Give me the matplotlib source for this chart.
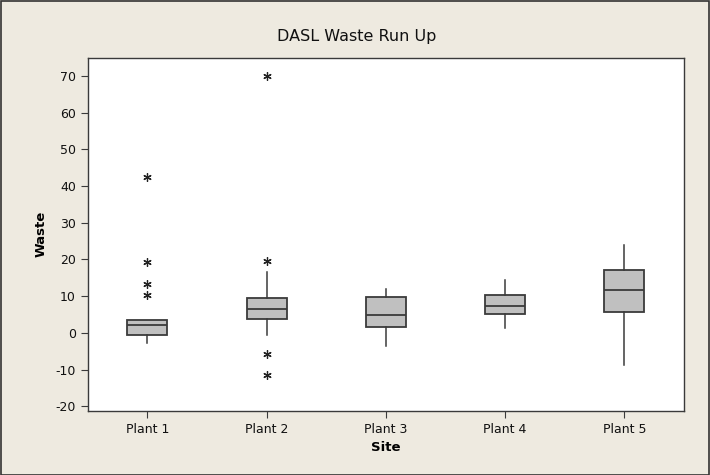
import matplotlib
matplotlib.use('Agg')
import matplotlib.pyplot as plt

plt.rcParams['axes.unicode_minus'] = False

# values (Minitab style boxplot)
sites = ['Plant 1', 'Plant 2', 'Plant 3', 'Plant 4', 'Plant 5']
q1 = [-0.6, 3.7, 1.7, 5.1, 5.8]
med = [2.1, 6.5, 4.8, 7.2, 11.7]
q3 = [3.4, 9.5, 9.8, 10.2, 17.1]
whislo = [-2.7, -0.7, -3.5, 1.3, -8.8]
whishi = [3.4, 16.7, 12.0, 14.4, 23.9]
outliers = [
    [10.2, 13.3, 19.4, 42.6],
    [-11.5, -5.7, 19.7, 70.0],
    [],
    [],
    [],
]

bg = '#EEEAE0'
edge = '#3a3a3a'

fig = plt.figure(figsize=(7.1, 4.75), dpi=100, facecolor=bg)
ax = fig.add_axes([0.1235, 0.1347, 0.84, 0.7438])
ax.set_facecolor('white')

stats = []
for i in range(len(sites)):
    stats.append({'label': sites[i], 'q1': q1[i], 'med': med[i], 'q3': q3[i],
                  'whislo': whislo[i], 'whishi': whishi[i], 'fliers': outliers[i]})

ax.bxp(stats, positions=range(1, 6), widths=0.335, patch_artist=True, showcaps=False,
       boxprops=dict(facecolor='#C0C0C0', edgecolor=edge, linewidth=1.3),
       medianprops=dict(color=edge, linewidth=1.3),
       whiskerprops=dict(color=edge, linewidth=1.1),
       flierprops=dict(marker=(6, 2, 0), markersize=6, markeredgecolor='#222222',
                       markeredgewidth=0.9, linestyle='none'))

ax.set_xlim(0.5, 5.5)
ax.set_ylim(-21.3, 75)
ax.set_yticks(range(-20, 80, 10))
ax.tick_params(direction='out', length=5, color=edge, labelsize=9, labelcolor='#111111')
for s in ax.spines.values():
    s.set_color(edge)
    s.set_linewidth(1.0)

ax.set_xlabel('Site', fontsize=9.5, fontweight='bold', labelpad=4)
ax.set_ylabel('Waste', fontsize=9.5, fontweight='bold', labelpad=6)
fig.text(0.502, 0.924, 'DASL Waste Run Up', ha='center', va='center', fontsize=11.5, color='#111111')

# thin frame round the whole picture
fig.patches.append(plt.Rectangle((0.001, 0.001), 0.998, 0.997, transform=fig.transFigure,
                                 fill=False, edgecolor='#333333', linewidth=1.2))

plt.savefig('out.png', dpi=100, facecolor=bg)
plt.close()
